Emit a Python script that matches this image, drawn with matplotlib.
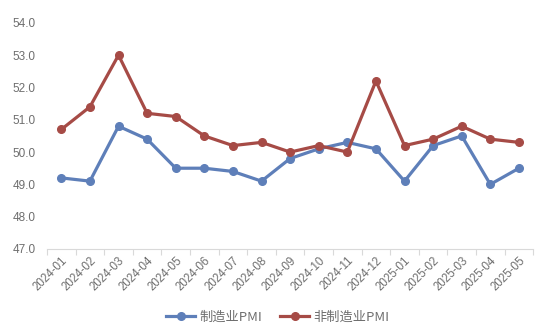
import matplotlib
matplotlib.use("Agg")
import matplotlib.pyplot as plt

plt.rcParams["font.family"] = ["Noto Sans CJK SC", "DejaVu Sans"]

months = ["2024-01", "2024-02", "2024-03", "2024-04", "2024-05", "2024-06",
          "2024-07", "2024-08", "2024-09", "2024-10", "2024-11", "2024-12",
          "2025-01", "2025-02", "2025-03", "2025-04", "2025-05"]
mfg_pmi = [49.2, 49.1, 50.8, 50.4, 49.5, 49.5, 49.4, 49.1, 49.8, 50.1,
           50.3, 50.1, 49.1, 50.2, 50.5, 49.0, 49.5]
non_mfg_pmi = [50.7, 51.4, 53.0, 51.2, 51.1, 50.5, 50.2, 50.3, 50.0, 50.2,
               50.0, 52.2, 50.2, 50.4, 50.8, 50.4, 50.3]
y_ticks = [47.0, 48.0, 49.0, 50.0, 51.0, 52.0, 53.0, 54.0]

BLUE = "#5E7FB9"
RED = "#A64B46"
GREY = "#6E6E6E"

fig = plt.figure(figsize=(5.5, 3.36), dpi=100)
ax = fig.add_axes([0.0855, 0.259, 0.884, 0.673])

x = list(range(len(months)))
ax.plot(x, mfg_pmi, color=BLUE, lw=2.3, marker="o", ms=5.5, label="制造业PMI")
ax.plot(x, non_mfg_pmi, color=RED, lw=2.3, marker="o", ms=5.5, label="非制造业PMI")

ax.set_xlim(-0.5, len(months) - 0.5)
ax.set_ylim(47, 54)
ax.set_yticks(y_ticks)
ax.set_yticklabels([f"{v:.1f}" for v in y_ticks], fontsize=8.5,
                   color=GREY, family="Liberation Sans")
ax.set_xticks(x)
ax.set_xticklabels(months, rotation=45, ha="right", rotation_mode="anchor",
                   fontsize=8.3, color=GREY, family="Liberation Sans")
ax.tick_params(axis="y", length=0, pad=8)
ax.tick_params(axis="x", length=0, pad=4)
# tick marks between categories
ax.set_xticks([i - 0.5 for i in range(len(months) + 1)], minor=True)
ax.tick_params(axis="x", which="minor", length=4, color="#D9D9D9", width=0.8)

for s in ["top", "right", "left"]:
    ax.spines[s].set_visible(False)
ax.spines["bottom"].set_color("#D9D9D9")
ax.spines["bottom"].set_linewidth(0.8)

leg = fig.legend(loc="center", bbox_to_anchor=(0.505, 0.055), ncol=2,
                 frameon=False, fontsize=9.5, handlelength=2.2,
                 handletextpad=0.3, columnspacing=1.4, labelcolor=GREY)

fig.savefig("out.png", dpi=100)
